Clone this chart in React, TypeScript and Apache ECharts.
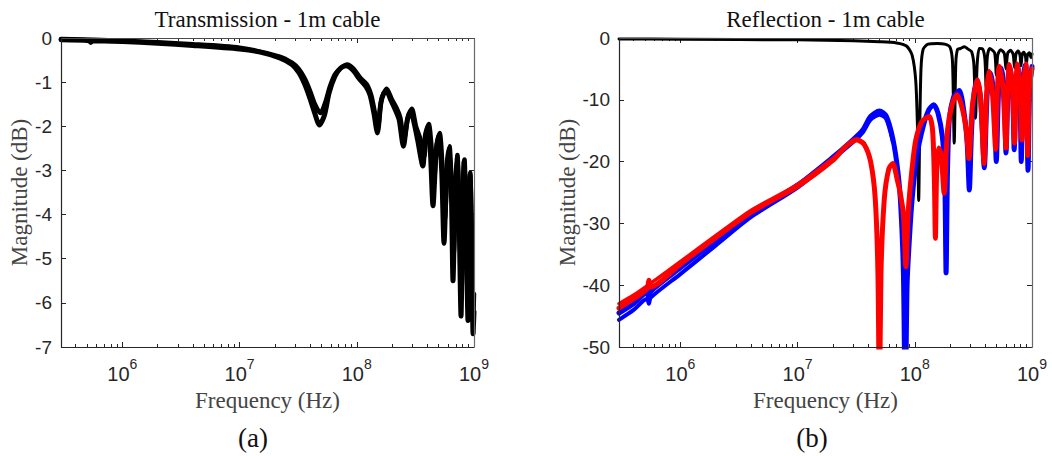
import React, { useEffect, useRef } from "react";
import * as echarts from "echarts";

// ---------- tick values ----------
const xMin = 3e5;
const xMax = 1e9;
const majorFreqs = [1e6, 1e7, 1e8, 1e9];
const minorFreqs = [
  4e5, 5e5, 6e5, 7e5, 8e5, 9e5,
  2e6, 3e6, 4e6, 5e6, 6e6, 7e6, 8e6, 9e6,
  2e7, 3e7, 4e7, 5e7, 6e7, 7e7, 8e7, 9e7,
  2e8, 3e8, 4e8, 5e8, 6e8, 7e8, 8e8, 9e8,
];
const transTicks = { min: -7, max: 0, interval: 1 };
const reflTicks = { min: -50, max: 0, interval: 10 };

// ---------- data: [frequency Hz, magnitude dB] ----------
const transmissionA: [number, number][] = [
  [3e5, -0.04], [5.2e5, -0.06], [5.4e5, -0.1], [5.6e5, -0.06], [1e6, -0.08], [2e6, -0.12],
  [4e6, -0.17], [1e7, -0.25], [1.5e7, -0.32], [2.2e7, -0.45], [2.8e7, -0.6], [3.2e7, -0.78],
  [3.6e7, -1.05], [4e7, -1.38], [4.4e7, -1.72], [4.8e7, -1.97], [5.3e7, -1.75], [5.8e7, -1.25],
  [6.5e7, -0.87], [7.3e7, -0.68], [8.1e7, -0.63], [9.2e7, -0.72], [1.05e8, -0.92], [1.2e8, -1.1],
  [1.3e8, -1.3], [1.4e8, -1.7], [1.5e8, -2.15], [1.6e8, -1.5], [1.7e8, -1.25], [1.8e8, -1.22],
  [1.95e8, -1.4], [2.15e8, -1.65], [2.3e8, -1.85], [2.5e8, -2.45], [2.7e8, -1.85], [2.9e8, -1.67],
  [3.1e8, -1.95], [3.3e8, -2.3], [3.66e8, -2.9], [3.85e8, -2.2], [4.05e8, -2.0], [4.25e8, -2.6],
  [4.47e8, -3.8], [4.75e8, -2.6], [5.03e8, -2.2], [5.3e8, -3.0], [5.55e8, -4.65], [5.85e8, -3.0],
  [6.11e8, -2.5], [6.4e8, -3.4], [6.62e8, -5.5], [6.9e8, -3.5], [7.16e8, -2.7], [7.45e8, -4.0],
  [7.75e8, -6.3], [8.0e8, -4.0], [8.22e8, -2.8], [8.55e8, -4.2], [8.89e8, -6.4], [9.1e8, -4.5],
  [9.25e8, -3.1], [9.55e8, -4.5], [9.82e8, -6.7], [1e9, -6.2],
];
const transmissionB: [number, number][] = [
  [3e5, -0.02], [1e6, -0.06], [4e6, -0.14], [1e7, -0.22], [2.2e7, -0.42], [2.8e7, -0.56],
  [3.2e7, -0.7], [3.6e7, -0.92], [4e7, -1.2], [4.4e7, -1.5], [4.9e7, -1.7], [5.4e7, -1.45],
  [5.9e7, -1.1], [6.6e7, -0.8], [8.3e7, -0.6], [9.4e7, -0.7], [1.07e8, -0.9], [1.22e8, -1.05],
  [1.33e8, -1.3], [1.43e8, -1.7], [1.52e8, -2.0], [1.62e8, -1.4], [1.8e8, -1.15], [2.0e8, -1.4],
  [2.2e8, -1.6], [2.35e8, -1.8], [2.53e8, -2.3], [2.75e8, -1.75], [2.95e8, -1.6], [3.2e8, -2.0],
  [3.5e8, -2.3], [3.75e8, -2.7], [3.95e8, -2.1], [4.12e8, -1.95], [4.35e8, -2.5], [4.55e8, -3.3],
  [4.82e8, -2.4], [5.1e8, -2.15], [5.4e8, -3.0], [5.65e8, -4.1], [5.95e8, -2.9], [6.18e8, -2.45],
  [6.5e8, -3.6], [6.72e8, -4.9], [7.0e8, -3.4], [7.22e8, -2.65], [7.55e8, -4.2], [7.85e8, -5.6],
  [8.1e8, -3.8], [8.3e8, -2.75], [8.65e8, -4.5], [8.95e8, -5.9], [9.15e8, -4.2], [9.3e8, -3.05],
  [9.6e8, -4.6], [9.88e8, -6.3], [1e9, -5.8],
];
const reflectionBlack: [number, number][] = [
  [3e5, -0.15], [1e6, -0.2], [1e7, -0.3], [3e7, -0.45], [5e7, -0.6], [7e7, -0.8], [8.5e7, -1.3],
  [9.5e7, -2.8], [1.02e8, -7], [1.06e8, -16], [1.08e8, -26.3], [1.1e8, -16], [1.13e8, -5],
  [1.18e8, -1.8], [1.3e8, -1.0], [1.55e8, -0.9], [1.8e8, -1.0], [2.0e8, -1.5], [2.1e8, -4],
  [2.17e8, -17], [2.24e8, -4], [2.32e8, -1.8], [2.45e8, -1.7], [2.65e8, -1.4], [2.85e8, -1.8],
  [3.05e8, -2.2], [3.2e8, -4.5], [3.3e8, -13], [3.4e8, -4.5], [3.55e8, -1.7], [3.8e8, -1.8],
  [3.97e8, -3.5], [4.06e8, -8], [4.15e8, -3.2], [4.35e8, -1.7], [4.8e8, -2.4], [4.96e8, -6],
  [5.1e8, -2.8], [5.4e8, -1.9], [5.8e8, -2.5], [6.0e8, -5], [6.2e8, -2.5], [6.55e8, -2.0],
  [6.9e8, -2.6], [7.1e8, -4.8], [7.3e8, -2.6], [7.6e8, -2.1], [7.9e8, -2.8], [8.05e8, -4.5],
  [8.25e8, -2.6], [8.5e8, -2.3], [8.8e8, -3.0], [8.95e8, -4.3], [9.15e8, -2.7], [9.5e8, -2.4],
  [9.8e8, -3.2], [1e9, -2.6],
];
const reflectionBlue: [number, number][] = [
  [3e5, -44.5], [4e5, -43], [5.2e5, -41.2], [5.4e5, -42.3], [5.6e5, -41.0], [1e6, -37.2],
  [2e6, -32.8], [4e6, -28.5], [1e7, -23.8], [2e7, -19.3], [3e7, -16.4], [3.6e7, -14.9],
  [4.2e7, -12.7], [5e7, -11.8], [5.7e7, -12.6], [6.5e7, -16.3], [7.2e7, -21.8], [7.6e7, -27.3],
  [8e7, -38], [8.3e7, -60], [8.6e7, -40], [9e7, -32.5], [9.5e7, -26], [1.04e8, -19.2],
  [1.18e8, -14.3], [1.32e8, -11.6], [1.45e8, -10.8], [1.58e8, -12.2], [1.72e8, -16], [1.8e8, -22],
  [1.85e8, -38], [1.9e8, -22], [1.97e8, -13.3], [2.15e8, -9.5], [2.4e8, -8.5], [2.65e8, -12.5],
  [2.8e8, -17], [2.92e8, -24.6], [3.05e8, -15], [3.2e8, -9], [3.4e8, -6.8], [3.65e8, -10],
  [3.92e8, -21], [4.15e8, -9], [4.45e8, -5.7], [4.75e8, -10], [4.96e8, -20], [5.2e8, -8],
  [5.5e8, -4.9], [5.8e8, -9], [6.0e8, -18.6], [6.25e8, -8], [6.5e8, -4.6], [6.85e8, -9],
  [7.05e8, -18.1], [7.3e8, -8], [7.6e8, -4.4], [7.9e8, -9], [8.1e8, -20], [8.35e8, -8],
  [8.65e8, -4.4], [8.95e8, -9], [9.25e8, -21.4], [9.55e8, -8], [1e9, -4.6],
];
const reflectionBlueLow: [number, number][] = [
  [3e5, -45.6], [4e5, -44], [5.2e5, -42.2], [5.4e5, -43.0], [5.6e5, -42.0], [1e6, -38.2],
  [2e6, -33.6], [4e6, -29.0], [1e7, -24.2], [2e7, -19.6], [3e7, -16.8], [3.6e7, -15.3],
  [4.2e7, -13.2], [5e7, -12.4], [5.7e7, -13.1], [6.5e7, -16.8],
];
const reflectionRed: [number, number][] = [
  [3e5, -43.7], [4e5, -42.2], [5.2e5, -40.6], [5.4e5, -39.2], [5.6e5, -40.3], [1e6, -36.6],
  [2e6, -32.3], [4e6, -28.2], [1e7, -24], [2e7, -19.8], [2.6e7, -17.5], [3.2e7, -16.5],
  [3.7e7, -17.2], [4.2e7, -20], [4.6e7, -26], [4.85e7, -38], [5.0e7, -60], [5.15e7, -38],
  [5.5e7, -26], [6e7, -21.2], [6.5e7, -20.3], [7.1e7, -23], [7.5e7, -25], [8e7, -28.5],
  [8.4e7, -37], [8.8e7, -28], [9.5e7, -21], [1.02e8, -16.5], [1.15e8, -13.5], [1.33e8, -12.7],
  [1.42e8, -15], [1.47e8, -23], [1.5e8, -32.4], [1.54e8, -21], [1.6e8, -17.8], [1.68e8, -18.8],
  [1.78e8, -25.1], [1.9e8, -15], [2.1e8, -10.5], [2.3e8, -9.2], [2.55e8, -11.5], [2.75e8, -15],
  [2.9e8, -19.5], [3.1e8, -11], [3.43e8, -6.8], [3.65e8, -10], [3.9e8, -20.3], [4.1e8, -9],
  [4.3e8, -5.4], [4.6e8, -9], [4.9e8, -18], [5.05e8, -9], [5.25e8, -4.6], [5.65e8, -8],
  [6.0e8, -17.8], [6.2e8, -8], [6.4e8, -4.3], [6.8e8, -8], [7.1e8, -17], [7.3e8, -8],
  [7.5e8, -4.2], [7.9e8, -8], [8.2e8, -16.5], [8.5e8, -7.5], [8.9e8, -4.2], [9.05e8, -8],
  [9.2e8, -19], [9.5e8, -8], [1e9, -5],
];
const reflectionRedUpper: [number, number][] = [
  [3e5, -43.0], [4e5, -41.6], [5.2e5, -40.1], [1e6, -36.2], [2e6, -32.0], [4e6, -27.9],
  [1e7, -23.7], [2e7, -19.5], [3.2e7, -16.3], [3.7e7, -17.0],
];

const titles = ["Transmission - 1m cable", "Reflection - 1m cable"];
const panelTags = ["(a)", "(b)"];
const xName = "Frequency (Hz)";
const yName = "Magnitude (dB)";

// ---------- layout ----------
const GRIDS = [
  { left: 61, top: 38, width: 413, height: 309 },
  { left: 619, top: 38, width: 413, height: 309 },
];
const SERIF = "'Liberation Serif', 'Times New Roman', serif";
const SANS = "'Liberation Sans', Arial, Helvetica, sans-serif";
const AXIS_DARK = "#262626";

function xAxes(gridIndex: number) {
  const base = {
    type: "log" as const,
    logBase: 10,
    gridIndex,
    min: xMin,
    max: xMax,
    splitLine: { show: false },
    minorTick: { show: false },
    minorSplitLine: { show: false },
  };
  return [
    {
      ...base,
      position: "bottom",
      name: xName,
      nameLocation: "middle",
      nameGap: 38,
      nameTextStyle: { fontFamily: SERIF, fontSize: 23, color: "#444" },
      axisLine: { show: false, onZero: false },
      axisTick: { show: true, inside: true, length: 5, customValues: majorFreqs, lineStyle: { color: AXIS_DARK } },
      axisLabel: {
        show: true,
        customValues: majorFreqs,
        margin: 10,
        formatter: (v: number) => `{b|10}{s|${Math.round(Math.log10(v))}}`,
        rich: {
          b: { fontFamily: SANS, fontSize: 20, color: AXIS_DARK, lineHeight: 27, verticalAlign: "bottom" },
          s: { fontFamily: SANS, fontSize: 14, color: AXIS_DARK, lineHeight: 27, verticalAlign: "top" },
        },
      },
    },
    {
      ...base,
      position: "bottom",
      axisLine: { show: false, onZero: false },
      axisTick: { show: true, inside: true, length: 3, customValues: minorFreqs, lineStyle: { color: AXIS_DARK } },
      axisLabel: { show: false },
    },
    {
      ...base,
      position: "top",
      axisLine: { show: false, onZero: false },
      axisTick: { show: true, inside: true, length: 5, customValues: majorFreqs, lineStyle: { color: AXIS_DARK } },
      axisLabel: { show: false },
    },
    {
      ...base,
      position: "top",
      axisLine: { show: false, onZero: false },
      axisTick: { show: true, inside: true, length: 3, customValues: minorFreqs, lineStyle: { color: AXIS_DARK } },
      axisLabel: { show: false },
    },
  ];
}

function yAxes(gridIndex: number, t: { min: number; max: number; interval: number }, nameGap: number) {
  const base = {
    type: "value" as const,
    gridIndex,
    min: t.min,
    max: t.max,
    interval: t.interval,
    splitLine: { show: false },
  };
  return [
    {
      ...base,
      position: "left",
      name: yName,
      nameLocation: "middle",
      nameGap,
      nameTextStyle: { fontFamily: SERIF, fontSize: 23, color: "#444" },
      axisLine: { show: false, onZero: false },
      axisTick: { show: true, inside: true, length: 5, lineStyle: { color: AXIS_DARK } },
      axisLabel: { show: true, margin: 9, fontFamily: SANS, fontSize: 19, color: AXIS_DARK },
    },
    {
      ...base,
      position: "right",
      axisLine: { show: false, onZero: false },
      axisTick: { show: true, inside: true, length: 5, lineStyle: { color: AXIS_DARK } },
      axisLabel: { show: false },
    },
  ];
}

function lineSeries(data: [number, number][], color: string, width: number, panel: number) {
  return {
    type: "line",
    xAxisIndex: panel * 4,
    yAxisIndex: panel * 2,
    data,
    showSymbol: false,
    symbol: "none",
    smooth: 0.25,
    clip: true,
    silent: true,
    lineStyle: { color, width, cap: "round", join: "round" },
    itemStyle: { color },
  };
}

export default function App() {
  const ref = useRef<HTMLDivElement>(null);
  useEffect(() => {
    if (!ref.current) return;
    const chart = echarts.init(ref.current, undefined, { renderer: "svg" });
    const boxes = GRIDS.flatMap((g) => {
      const l = g.left + 0.5;
      const t = g.top + 0.5;
      const r = g.left + g.width + 0.5;
      const b = g.top + g.height + 0.5;
      return [
        { type: "line", z: 50, silent: true, shape: { x1: l, y1: b, x2: r, y2: b }, style: { stroke: AXIS_DARK, lineWidth: 1.2 } },
        { type: "line", z: 50, silent: true, shape: { x1: l, y1: t, x2: l, y2: b }, style: { stroke: AXIS_DARK, lineWidth: 1.2 } },
        { type: "line", z: 50, silent: true, shape: { x1: l, y1: t, x2: r, y2: t }, style: { stroke: "#4a4a4a", lineWidth: 1.2 } },
        { type: "line", z: 50, silent: true, shape: { x1: r, y1: t, x2: r, y2: b }, style: { stroke: "#6a6a6a", lineWidth: 1.2 } },
      ];
    });
    const option: any = {
      animation: false,
      backgroundColor: "#ffffff",
      grid: GRIDS.map((g) => ({ ...g, show: false, containLabel: false })),
      xAxis: [...xAxes(0), ...xAxes(1)],
      yAxis: [...yAxes(0, transTicks, 30), ...yAxes(1, reflTicks, 39)],
      graphic: [
        ...boxes,
        ...titles.map((t, i) => ({
          type: "text",
          x: GRIDS[i].left + GRIDS[i].width / 2,
          y: 19,
          style: { text: t, fontFamily: SERIF, fontSize: 23, fill: "#111", align: "center", verticalAlign: "middle" },
        })),
        ...panelTags.map((t, i) => ({
          type: "text",
          x: i === 0 ? 253 : 812,
          y: 438,
          style: { text: t, fontFamily: SERIF, fontSize: 27, fill: "#111", align: "center", verticalAlign: "middle" },
        })),
      ],
      series: [
        lineSeries(transmissionB, "#000000", 4.5, 0),
        lineSeries(transmissionA, "#000000", 5, 0),
        lineSeries(reflectionBlack, "#000000", 3, 1),
        lineSeries(reflectionBlueLow, "#0000ff", 4, 1),
        lineSeries(reflectionBlue, "#0000ff", 5, 1),
        lineSeries(reflectionRedUpper, "#ff0000", 3.5, 1),
        lineSeries(reflectionRed, "#ff0000", 5, 1),
      ],
    };
    chart.setOption(option);
    return () => chart.dispose();
  }, []);
  return <div ref={ref} style={{ width: 1052, height: 456, position: "absolute", left: 0, top: 0 }} />;
}
